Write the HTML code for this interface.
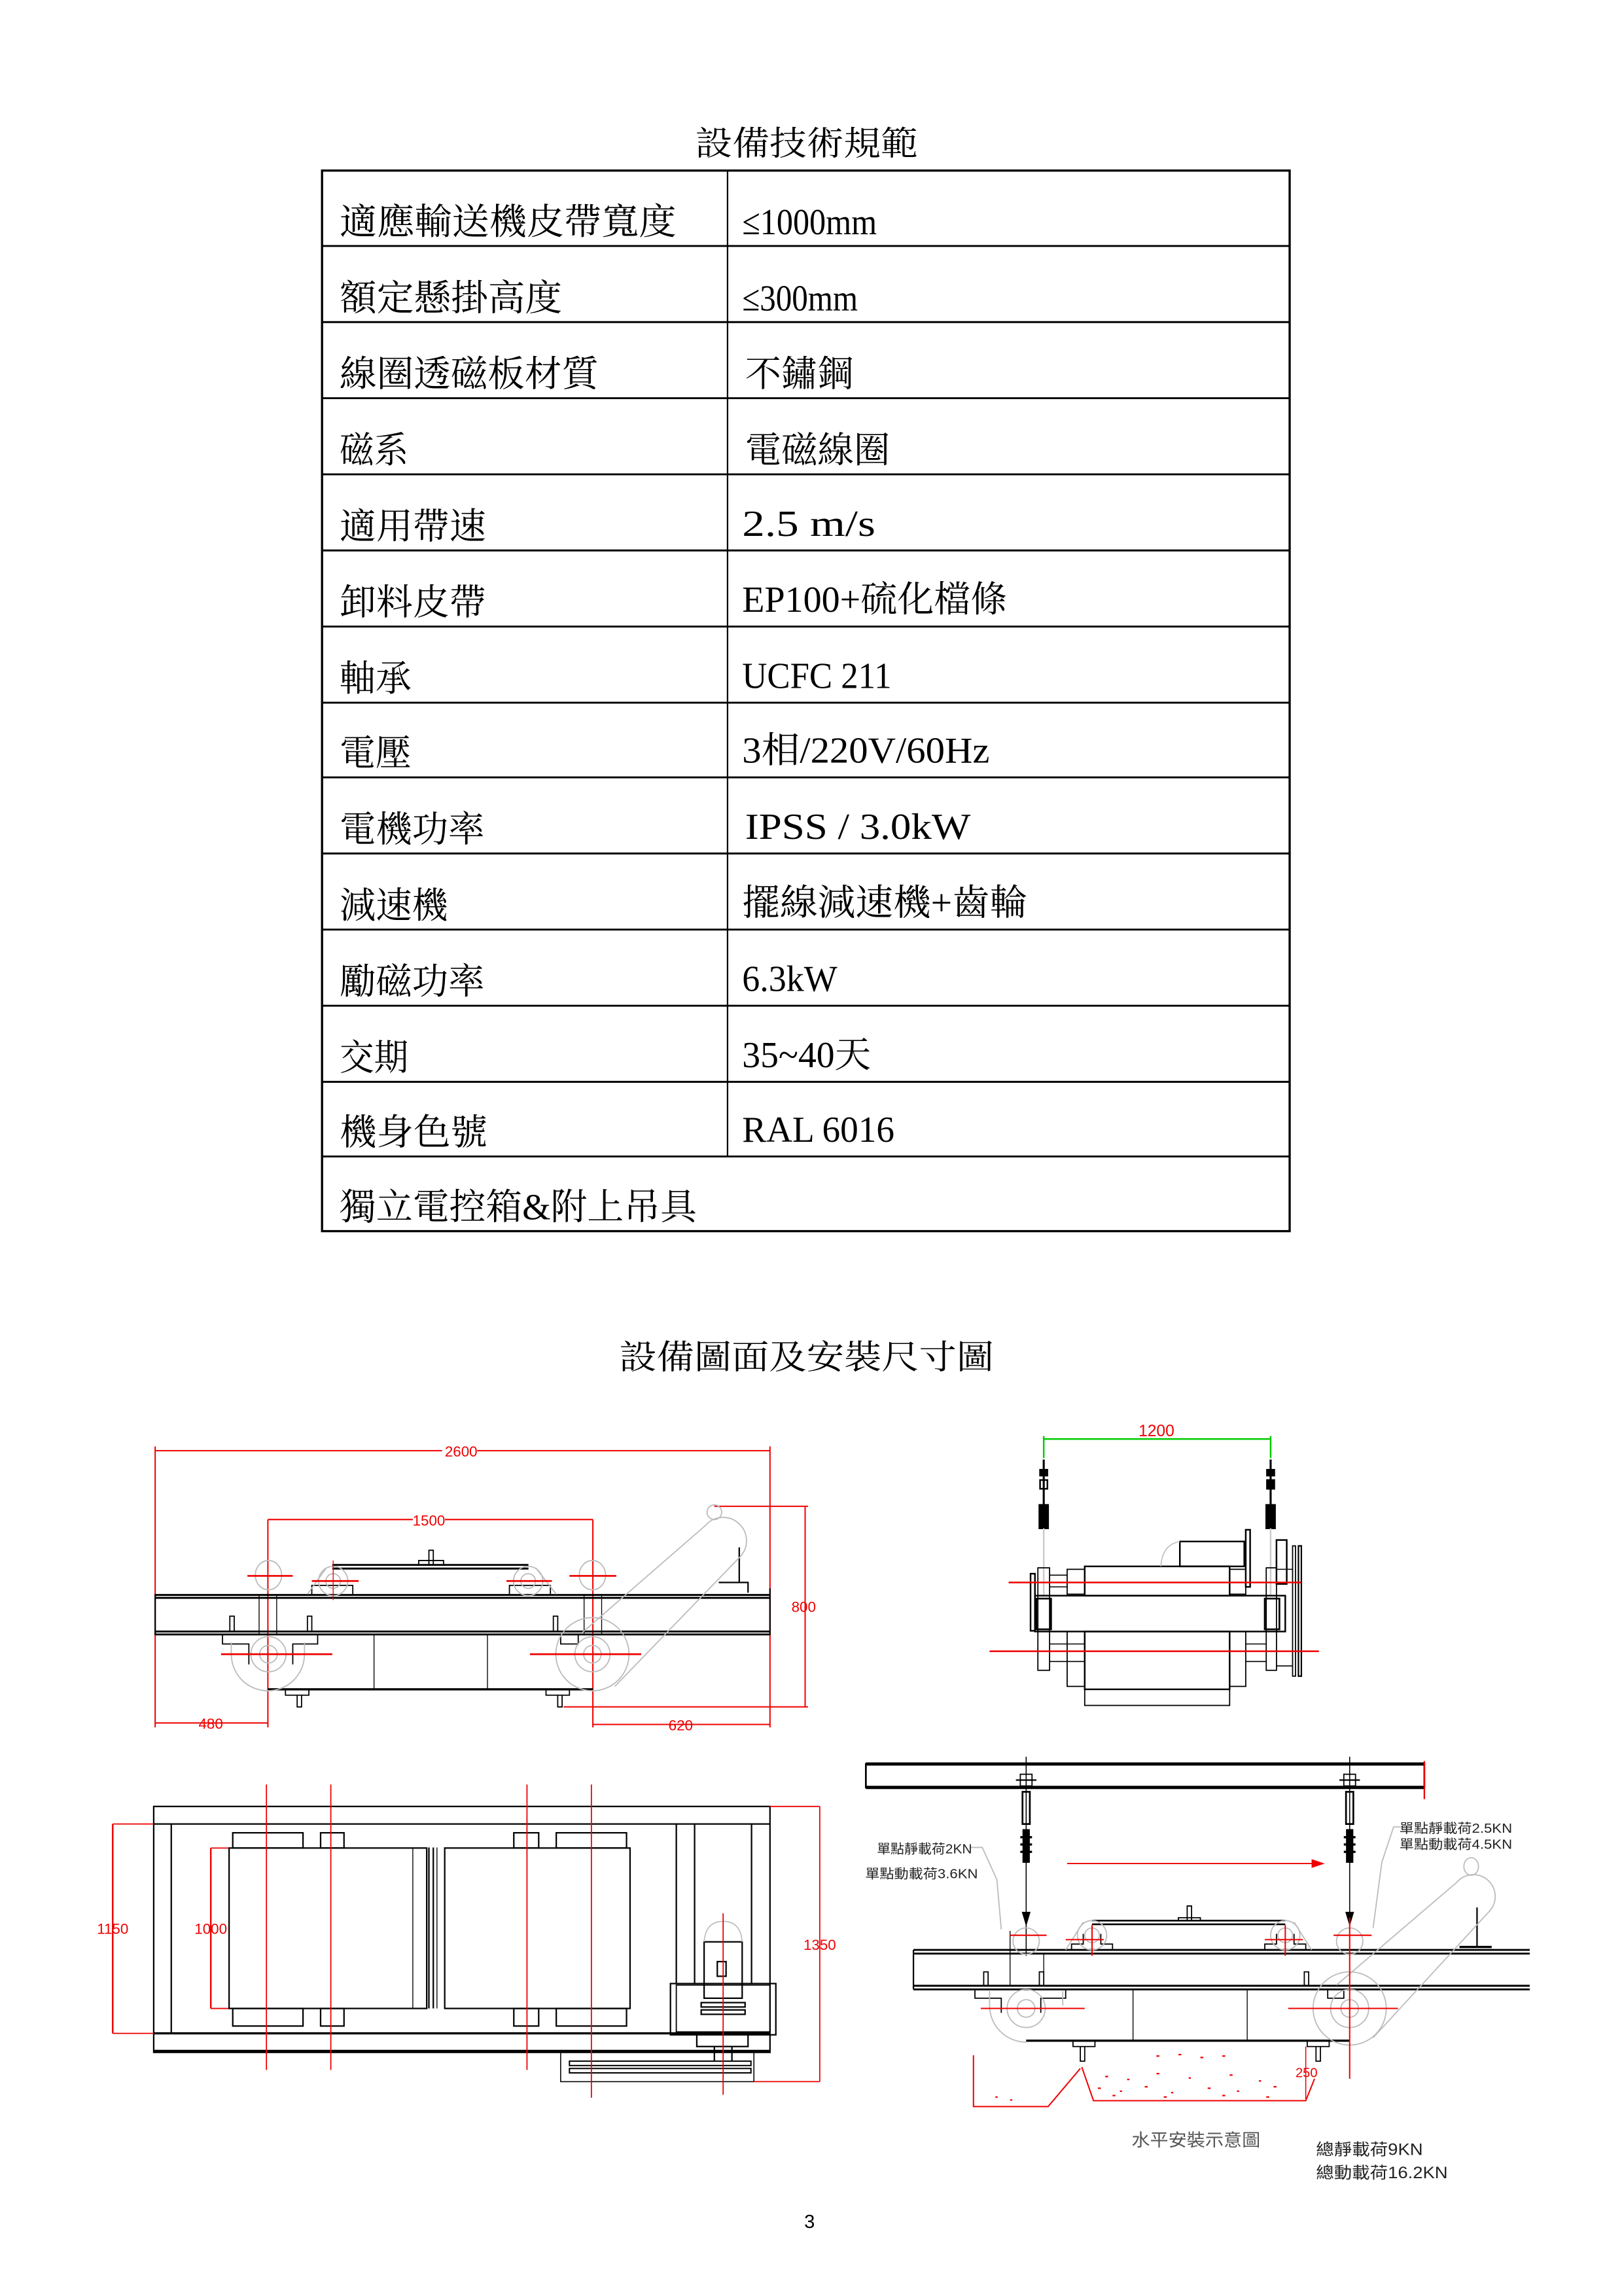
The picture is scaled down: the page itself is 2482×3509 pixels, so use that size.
<!DOCTYPE html>
<html><head><meta charset="utf-8">
<style>
html,body{margin:0;padding:0;background:#fff;}
svg{display:block;}
.c{font-family:"Liberation Serif","Noto Serif CJK SC",serif;font-size:25px;fill:#000;}
.d{font-family:"Liberation Sans","Noto Sans CJK TC",sans-serif;fill:#e00;font-size:10px;stroke:none;}
.k{font-family:"Liberation Sans","Noto Sans CJK TC",sans-serif;fill:#222;font-size:10px;stroke:none;}
</style></head>
<body>
<svg width="2482" height="3509" viewBox="0 0 1109.4 1568.4" xmlns="http://www.w3.org/2000/svg">
<rect width="1110" height="1569" fill="#fff"/>
<text class="c" x="551" y="106" text-anchor="middle" textLength="152" lengthAdjust="spacingAndGlyphs" style="font-size:23px">設備技術規範</text>
<g stroke="#000" fill="none">
<rect x="220" y="116.5" width="661" height="724.5" stroke-width="1.5"/>
<line x1="497" y1="116" x2="497" y2="790" stroke-width="1"/>
<g stroke-width="1.3">
<line x1="220" y1="168" x2="881" y2="168"/><line x1="220" y1="220" x2="881" y2="220"/>
<line x1="220" y1="272" x2="881" y2="272"/><line x1="220" y1="324" x2="881" y2="324"/>
<line x1="220" y1="376" x2="881" y2="376"/><line x1="220" y1="428" x2="881" y2="428"/>
<line x1="220" y1="480" x2="881" y2="480"/><line x1="220" y1="531" x2="881" y2="531"/>
<line x1="220" y1="583" x2="881" y2="583"/><line x1="220" y1="635" x2="881" y2="635"/>
<line x1="220" y1="687" x2="881" y2="687"/><line x1="220" y1="739" x2="881" y2="739"/>
<line x1="220" y1="790" x2="881" y2="790"/>
</g></g>
<g class="c">
<text x="232" y="160" textLength="230" lengthAdjust="spacingAndGlyphs">適應輸送機皮帶寬度</text>
<text x="507" y="160" textLength="92" lengthAdjust="spacingAndGlyphs">≤1000mm</text>
<text x="232" y="212" textLength="152" lengthAdjust="spacingAndGlyphs">額定懸掛高度</text>
<text x="507" y="212" textLength="79" lengthAdjust="spacingAndGlyphs">≤300mm</text>
<text x="232" y="264" textLength="177" lengthAdjust="spacingAndGlyphs">線圈透磁板材質</text>
<text x="509" y="264" textLength="74" lengthAdjust="spacingAndGlyphs">不鏽鋼</text>
<text x="232" y="316" textLength="47" lengthAdjust="spacingAndGlyphs">磁系</text>
<text x="509" y="316" textLength="99" lengthAdjust="spacingAndGlyphs">電磁線圈</text>
<text x="232" y="368" textLength="100" lengthAdjust="spacingAndGlyphs">適用帶速</text>
<text x="507" y="366" textLength="91" lengthAdjust="spacingAndGlyphs">2.5 m/s</text>
<text x="232" y="420" textLength="100" lengthAdjust="spacingAndGlyphs">卸料皮帶</text>
<text x="507" y="418" textLength="181" lengthAdjust="spacingAndGlyphs">EP100+硫化檔條</text>
<text x="232" y="472" textLength="49" lengthAdjust="spacingAndGlyphs">軸承</text>
<text x="507" y="470" textLength="102" lengthAdjust="spacingAndGlyphs">UCFC 211</text>
<text x="232" y="523" textLength="49" lengthAdjust="spacingAndGlyphs">電壓</text>
<text x="507" y="521" textLength="169" lengthAdjust="spacingAndGlyphs">3相/220V/60Hz</text>
<text x="232" y="575" textLength="99" lengthAdjust="spacingAndGlyphs">電機功率</text>
<text x="509" y="573" textLength="154" lengthAdjust="spacingAndGlyphs">IPSS / 3.0kW</text>
<text x="232" y="627" textLength="74" lengthAdjust="spacingAndGlyphs">減速機</text>
<text x="507" y="625" textLength="195" lengthAdjust="spacingAndGlyphs">擺線減速機+齒輪</text>
<text x="232" y="679" textLength="99" lengthAdjust="spacingAndGlyphs">勵磁功率</text>
<text x="507" y="677" textLength="65" lengthAdjust="spacingAndGlyphs">6.3kW</text>
<text x="232" y="731" textLength="47" lengthAdjust="spacingAndGlyphs">交期</text>
<text x="507" y="729" textLength="88" lengthAdjust="spacingAndGlyphs">35~40天</text>
<text x="232" y="782" textLength="101" lengthAdjust="spacingAndGlyphs">機身色號</text>
<text x="507" y="780" textLength="104" lengthAdjust="spacingAndGlyphs">RAL 6016</text>
<text x="232" y="833" textLength="244" lengthAdjust="spacingAndGlyphs">獨立電控箱&amp;附上吊具</text>
</g>
<text class="c" x="551" y="935" text-anchor="middle" textLength="256" lengthAdjust="spacingAndGlyphs" style="font-size:23px">設備圖面及安裝尺寸圖</text>

<!-- Drawing 1 -->
<g fill="none" stroke-width="1">
<g stroke="#e00" stroke-width="0.9">
<line x1="106" y1="991" x2="526" y2="991"/><line x1="106" y1="988" x2="106" y2="1180"/><line x1="526" y1="988" x2="526" y2="1180"/>
<line x1="183" y1="1038" x2="405" y2="1038"/><line x1="183" y1="1038" x2="183" y2="1180"/><line x1="405" y1="1038" x2="405" y2="1180"/>
<line x1="550" y1="1029" x2="550" y2="1166"/><line x1="488" y1="1029" x2="552" y2="1029"/><line x1="385" y1="1166" x2="552" y2="1166"/>
<line x1="106" y1="1177" x2="183" y2="1177"/><line x1="405" y1="1178" x2="526" y2="1178"/>
</g>
<rect x="302" y="985" width="24" height="11" fill="#fff" stroke="none"/>
<text class="d" x="315" y="995" text-anchor="middle">2600</text>
<rect x="282" y="1033" width="22" height="10" fill="#fff" stroke="none"/>
<text class="d" x="293" y="1042" text-anchor="middle">1500</text>
<text class="d" x="549" y="1101" text-anchor="middle">800</text>
<text class="d" x="144" y="1181" text-anchor="middle">480</text>
<text class="d" x="465" y="1182" text-anchor="middle">620</text>
<g stroke="#000">
<line x1="106" y1="1089.5" x2="526" y2="1089.5" stroke-width="1.3"/><line x1="106" y1="1091.5" x2="526" y2="1091.5" stroke-width="1.3"/>
<line x1="106" y1="1114.5" x2="526" y2="1114.5" stroke-width="1.3"/><line x1="106" y1="1116.5" x2="526" y2="1116.5" stroke-width="1.3"/>
<line x1="106" y1="1089" x2="106" y2="1117"/><line x1="526" y1="1085" x2="526" y2="1117"/>
<line x1="183" y1="1154" x2="405" y2="1154" stroke-width="1.5"/>
<line x1="255.5" y1="1117" x2="255.5" y2="1154" stroke-width="0.6"/><line x1="333" y1="1117" x2="333" y2="1154" stroke-width="0.6"/>
<line x1="227" y1="1069" x2="361" y2="1069" stroke-width="1.3"/><line x1="227" y1="1071.5" x2="361" y2="1071.5" stroke-width="1.3"/>
<path d="M293 1069 v-10 h3 v10 M286 1069 v-3 h17 v3" stroke-width="0.8"/>
<path d="M195 1154 v4 h16 v-4 M203 1158 v8 h3 v-8 M373 1154 v4 h16 v-4 M381 1158 v8 h3 v-8" stroke-width="0.8"/>
<path d="M157 1114 v-10 h3 v10 M210 1114 v-10 h3 v10 M378 1114 v-10 h3 v10" stroke-width="0.8"/>
<path d="M152 1117 v6 h18 v14 M200 1137 v-14 h17 v-6 M395 1117 v6 h-12 v-6" stroke-width="0.8"/>
<path d="M213 1089 v-6 h28 v6 M348 1089 v-6 h28 v6" stroke-width="0.8"/>
<path d="M491 1081 h20 v7 M505 1057 v24" stroke-width="1"/>
<line x1="177" y1="1089" x2="177" y2="1117" stroke-width="0.6"/><line x1="189" y1="1089" x2="189" y2="1117" stroke-width="0.6"/>
<line x1="399" y1="1089" x2="399" y2="1117" stroke-width="0.6"/><line x1="411" y1="1089" x2="411" y2="1117" stroke-width="0.6"/>
</g>
<g stroke="#bbb" stroke-width="0.8">
<circle cx="183.4" cy="1130" r="12"/><circle cx="183.4" cy="1130" r="6"/>
<path d="M183 1155 a25 25 0 0 1 -25 -25 v-8 M208 1122 v8 a25 25 0 0 1 -25 25"/>
<circle cx="404.7" cy="1130" r="12"/><circle cx="404.7" cy="1130" r="6"/><circle cx="404.7" cy="1130" r="25"/>
<circle cx="227.6" cy="1080" r="10"/><circle cx="227.6" cy="1080" r="5"/>
<circle cx="360.8" cy="1080" r="10"/><circle cx="360.8" cy="1080" r="5"/>
<ellipse cx="183.4" cy="1076" rx="9" ry="10"/><ellipse cx="404.7" cy="1076" rx="9" ry="10"/>
<line x1="210" y1="1089" x2="223" y2="1071"/><line x1="366" y1="1071" x2="380" y2="1089"/>
<path d="M398 1115 L482 1042 A14 14 0 0 1 506 1063 L420 1152"/>
<ellipse cx="488" cy="1033" rx="5" ry="5"/>
</g>
<g stroke="#e00" stroke-width="1.2">
<line x1="169" y1="1076.5" x2="200" y2="1076.5"/><line x1="389" y1="1076.5" x2="421" y2="1076.5"/>
<line x1="213" y1="1080" x2="245" y2="1080"/><line x1="346" y1="1080" x2="377" y2="1080"/>
<line x1="151" y1="1130" x2="227" y2="1130"/><line x1="362" y1="1130" x2="438" y2="1130"/>
<line x1="227.6" y1="1066" x2="227.6" y2="1093" stroke-width="0.6"/>
</g>
</g>

<!-- Drawing 2 -->
<text class="d" x="790" y="981" text-anchor="middle" style="font-size:11px">1200</text>
<g fill="none" stroke="#000" stroke-width="1.1">
<line x1="713" y1="983" x2="868" y2="983" stroke="#0c0"/>
<line x1="713" y1="981" x2="713" y2="996" stroke="#0c0"/><line x1="868" y1="981" x2="868" y2="996" stroke="#0c0"/>
<line x1="713" y1="997" x2="713" y2="1044" stroke-width="1.4"/><line x1="868" y1="997" x2="868" y2="1044" stroke-width="1.4"/>
<rect x="710.5" y="1004" width="5" height="4" fill="#000"/><rect x="865.5" y="1004" width="5" height="4" fill="#000"/>
<rect x="710.5" y="1011" width="5" height="6"/><rect x="865.5" y="1011" width="5" height="6" fill="#000"/>
<rect x="710" y="1028" width="6" height="16" fill="#000"/><rect x="865" y="1028" width="6" height="16" fill="#000"/>
<line x1="713" y1="1044" x2="713" y2="1090" stroke="#ccc"/><line x1="868" y1="1044" x2="868" y2="1090" stroke="#ccc"/>
<rect x="707" y="1090" width="171" height="24.5"/>
<rect x="741" y="1070" width="99" height="20"/>
<rect x="741" y="1114.5" width="99" height="39.5"/><rect x="741" y="1154" width="99" height="11" stroke-width="0.8"/>
<rect x="729" y="1072" width="12" height="17" stroke-width="0.8"/><rect x="840" y="1072" width="11" height="17" stroke-width="0.8"/>
<rect x="729" y="1114.5" width="12" height="37.5" stroke-width="0.8"/><rect x="840" y="1114.5" width="11" height="37.5" stroke-width="0.8"/>
<rect x="806" y="1053" width="44" height="17"/>
<path d="M806 1053 q-12 2 -13 17" stroke="#bbb" stroke-width="0.7"/>
<rect x="851" y="1045" width="3" height="39"/>
<rect x="872" y="1052" width="7" height="30"/>
<rect x="704" y="1075" width="3" height="39"/>
<rect x="709" y="1071" width="8" height="70" stroke-width="0.8"/><rect x="865" y="1071" width="7" height="70" stroke-width="0.8"/>
<rect x="708" y="1092" width="10" height="21" stroke-width="1.2"/><rect x="864" y="1092" width="10" height="21" stroke-width="1.2"/>
<line x1="717" y1="1076" x2="729" y2="1076" stroke-width="0.7"/><line x1="717" y1="1084" x2="729" y2="1084" stroke-width="0.7"/>
<line x1="717" y1="1123" x2="741" y2="1123" stroke-width="0.7"/><line x1="717" y1="1135" x2="741" y2="1135" stroke-width="0.7"/>
<line x1="851" y1="1123" x2="865" y2="1123" stroke-width="0.7"/><line x1="851" y1="1135" x2="865" y2="1135" stroke-width="0.7"/>
<rect x="883" y="1056" width="2" height="89" stroke-width="0.8"/><rect x="887" y="1056" width="2" height="89" stroke-width="1"/>
<line x1="872" y1="1072" x2="883" y2="1072" stroke-width="0.7"/><line x1="872" y1="1138" x2="883" y2="1138" stroke-width="0.7"/>
<line x1="689" y1="1081" x2="889" y2="1081" stroke="#e00"/>
<line x1="676" y1="1128" x2="901" y2="1128" stroke="#e00"/>
</g>

<!-- Drawing 3 -->
<g fill="none" stroke="#000" stroke-width="1">
<rect x="105" y="1234" width="421" height="168"/>
<line x1="105" y1="1246" x2="526" y2="1246"/>
<line x1="105" y1="1389" x2="526" y2="1389" stroke-width="1.5"/>
<line x1="105" y1="1401" x2="526" y2="1401" stroke-width="1.5"/>
<line x1="117" y1="1246" x2="117" y2="1389"/>
<line x1="462" y1="1246" x2="462" y2="1355"/><line x1="474.5" y1="1246" x2="474.5" y2="1355"/><line x1="513.4" y1="1246" x2="513.4" y2="1355"/>
<rect x="156.5" y="1262.4" width="135" height="109.6"/>
<rect x="303.8" y="1262.4" width="126.6" height="109.6"/>
<line x1="282" y1="1262" x2="282" y2="1372" stroke-width="0.6"/>
<line x1="293" y1="1262" x2="293" y2="1372"/><line x1="296" y1="1262" x2="296" y2="1372"/><line x1="298.5" y1="1262" x2="298.5" y2="1372" stroke-width="0.6"/>
<rect x="159" y="1252" width="48" height="10.4"/><rect x="219" y="1252" width="16" height="10.4"/>
<rect x="351" y="1252" width="17" height="10.4"/><rect x="380" y="1252" width="48" height="10.4"/>
<rect x="159" y="1372" width="48" height="12"/><rect x="219" y="1372" width="16" height="12"/>
<rect x="351" y="1372" width="17" height="12"/><rect x="380" y="1372" width="48" height="12"/>
<rect x="458" y="1355" width="72" height="35"/><rect x="462" y="1356" width="64" height="32" stroke-width="0.8"/>
<rect x="481" y="1326.5" width="26" height="38.5"/>
<path d="M481 1326.5 q1 -14 13 -14 q12 0 13 14" stroke="#bbb" stroke-width="0.7"/>
<rect x="490" y="1340" width="6" height="10"/>
<rect x="479" y="1368" width="30" height="3"/><rect x="479" y="1373" width="30" height="3"/>
<rect x="476" y="1389.5" width="35" height="8.5"/>
<rect x="383" y="1402" width="132" height="20" stroke-width="0.7"/>
<rect x="389" y="1408" width="124" height="3" stroke-width="0.9"/><rect x="389" y="1413" width="124" height="3" stroke-width="0.9"/>
<line x1="488" y1="1398" x2="488" y2="1408"/><line x1="500" y1="1398" x2="500" y2="1408"/>
</g>
<g stroke="#e00" stroke-width="0.8" fill="none">
<line x1="182" y1="1219" x2="182" y2="1414"/><line x1="226" y1="1219" x2="226" y2="1414"/>
<line x1="360" y1="1219" x2="360" y2="1414"/><line x1="404" y1="1219" x2="404" y2="1433"/>
<line x1="494" y1="1307" x2="494" y2="1431"/>
<line x1="77" y1="1246" x2="77" y2="1389" stroke-width="1.1"/><line x1="77" y1="1246" x2="105" y2="1246"/><line x1="77" y1="1389" x2="105" y2="1389"/>
<line x1="144" y1="1262.4" x2="144" y2="1372" stroke-width="1.1"/><line x1="144" y1="1262.4" x2="156" y2="1262.4"/><line x1="144" y1="1372" x2="156" y2="1372"/>
<line x1="560" y1="1234" x2="560" y2="1422"/><line x1="526" y1="1234" x2="560" y2="1234"/><line x1="515" y1="1422" x2="560" y2="1422"/>
</g>
<text class="d" x="77" y="1321" text-anchor="middle">1150</text>
<text class="d" x="144" y="1321" text-anchor="middle">1000</text>
<text class="d" x="560" y="1332" text-anchor="middle">1350</text>

<!-- Drawing 4 -->
<g fill="none" stroke="#000">
<rect x="591.5" y="1205" width="381.5" height="16" stroke-width="1.2"/>
<line x1="591.5" y1="1205" x2="973" y2="1205" stroke-width="2.2"/><line x1="591.5" y1="1221" x2="973" y2="1221" stroke-width="2.2"/>
<line x1="973" y1="1203" x2="973" y2="1229" stroke="#e00"/>
<line x1="701" y1="1200" x2="701" y2="1336" stroke-width="0.7"/><line x1="922" y1="1200" x2="922" y2="1336" stroke-width="0.7"/>
<path d="M694 1216 h14 M915 1216 h14" stroke-width="1"/>
<rect x="697" y="1212" width="8" height="8" stroke-width="0.8"/><rect x="918" y="1212" width="8" height="8" stroke-width="0.8"/>
<rect x="698.5" y="1224" width="5" height="22" stroke-width="1.2"/><rect x="919.5" y="1224" width="5" height="22" stroke-width="1.2"/>
<rect x="699" y="1250" width="4" height="22" fill="#000"/><rect x="920" y="1250" width="4" height="22" fill="#000"/>
<path d="M697 1255 h8 M697 1260 h8 M697 1265 h8 M918 1255 h8 M918 1260 h8 M918 1265 h8" stroke-width="1.5"/>
<line x1="624" y1="1332" x2="1045" y2="1332" stroke-width="1.3"/><line x1="624" y1="1334.5" x2="1045" y2="1334.5" stroke-width="1.3"/>
<line x1="624" y1="1356.5" x2="1045" y2="1356.5" stroke-width="1.3"/><line x1="624" y1="1359" x2="1045" y2="1359" stroke-width="1.3"/>
<line x1="624" y1="1332" x2="624" y2="1359"/>
<line x1="701" y1="1394" x2="922" y2="1394" stroke-width="1.5"/>
<line x1="774" y1="1359" x2="774" y2="1394" stroke-width="0.6"/><line x1="852" y1="1359" x2="852" y2="1394" stroke-width="0.6"/>
<line x1="746" y1="1312" x2="878" y2="1312" stroke-width="1.2"/><line x1="746" y1="1314.5" x2="878" y2="1314.5" stroke-width="1.2"/>
<path d="M811 1312 v-10 h3 v10 M805 1312 v-2 h15 v2" stroke-width="0.8"/>
<path d="M732 1332 v-4 h8 v-7 M752 1321 v7 h8 v4 M864 1332 v-4 h8 v-7 M884 1321 v7 h8 v4" stroke-width="0.8"/>
<path d="M672 1357 v-10 h3 v10 M710 1357 v-10 h3 v10 M891 1357 v-10 h3 v10" stroke-width="0.8"/>
<path d="M666 1359 v6 h18 v10 M711 1375 v-10 h17 v-6 M918 1359 v6 h-11 v-6" stroke-width="0.8"/>
<path d="M733 1394 v4 h15 v-4 M738 1398 v10 h3 v-10 M893 1394 v4 h15 v-4 M899 1398 v10 h3 v-10" stroke-width="0.8"/>
<line x1="713" y1="1334" x2="713" y2="1357" stroke-width="0.6"/><line x1="690" y1="1319" x2="690" y2="1357" stroke-width="0.6"/>
<line x1="1009" y1="1303" x2="1009" y2="1330" stroke-width="1"/><path d="M997 1330 h22" stroke-width="1.5"/>
</g>
<g fill="none" stroke="#bbb" stroke-width="0.8">
<ellipse cx="701" cy="1326" rx="9" ry="9"/><ellipse cx="922" cy="1326" rx="9" ry="9"/>
<path d="M701 1395 a25 25 0 0 1 -25 -25 v-10 M726 1360 v10"/>
<circle cx="701" cy="1372" r="13"/><circle cx="701" cy="1372" r="6"/>
<circle cx="922" cy="1372" r="25"/><circle cx="922" cy="1372" r="13"/><circle cx="922" cy="1372" r="6"/>
<circle cx="746" cy="1322" r="10"/><circle cx="746" cy="1322" r="5"/>
<circle cx="878" cy="1322" r="10"/><circle cx="878" cy="1322" r="5"/>
<line x1="728" y1="1332" x2="740" y2="1313"/><line x1="884" y1="1313" x2="896" y2="1332"/>
<path d="M913 1356 L995 1286 A13 13 0 0 1 1018 1305 L938 1392"/>
<ellipse cx="1005" cy="1275" rx="5" ry="6"/>
<path d="M663 1262 h8 l10 22 l3 34 M958 1248 h-6 l-8 24 l-6 45"/>
</g>
<path d="M698 1306 l3 10 l3 -10z M919 1306 l3 10 l3 -10z" fill="#000"/>
<line x1="729" y1="1273" x2="897" y2="1273" stroke="#e00" stroke-width="0.8"/>
<path d="M896 1270 l9 3 l-9 3z" fill="#e00"/>
<g stroke="#e00" fill="none" stroke-width="0.9">
<line x1="922" y1="1310" x2="922" y2="1420"/>
<line x1="690" y1="1322" x2="715" y2="1322"/><line x1="728" y1="1325" x2="754" y2="1325"/>
<line x1="864" y1="1325" x2="890" y2="1325"/><line x1="911" y1="1322" x2="937" y2="1322"/>
<line x1="746" y1="1315" x2="746" y2="1336"/><line x1="878" y1="1315" x2="878" y2="1336"/>
<line x1="670" y1="1372" x2="741" y2="1372"/><line x1="880" y1="1372" x2="955" y2="1372"/>
<polyline points="665,1404 665,1439 716,1439 738,1413"/>
<polyline points="739,1412 747,1435 892,1435 898,1420"/>
<line x1="892" y1="1398" x2="892" y2="1434" stroke-width="0.7"/>
</g>
<g fill="#e00">
<rect x="755" y="1418" width="2" height="1"/><rect x="770" y="1420" width="1.5" height="1"/><rect x="790" y="1416" width="2" height="1"/><rect x="812" y="1419" width="1.5" height="1"/><rect x="840" y="1417" width="2" height="1"/><rect x="860" y="1421" width="1.5" height="1"/>
<rect x="750" y="1426" width="2" height="1"/><rect x="765" y="1428" width="1.5" height="1"/><rect x="782" y="1425" width="2" height="1"/><rect x="800" y="1429" width="1.5" height="1"/><rect x="825" y="1426" width="2" height="1"/><rect x="845" y="1428" width="1.5" height="1"/><rect x="870" y="1425" width="2" height="1"/>
<rect x="760" y="1431" width="2" height="1"/><rect x="795" y="1432" width="2" height="1"/><rect x="835" y="1431" width="2" height="1"/><rect x="865" y="1432" width="2" height="1"/>
<rect x="790" y="1404" width="2" height="1"/><rect x="805" y="1403" width="2" height="1"/><rect x="820" y="1405" width="2" height="1"/><rect x="835" y="1404" width="2" height="1"/>
<rect x="680" y="1432" width="1.5" height="1"/><rect x="690" y="1434" width="1.5" height="1"/>
</g>
<text class="d" x="885" y="1419" style="font-size:9px">250</text>
<text class="k" x="599" y="1266" style="font-size:9px" textLength="65" lengthAdjust="spacingAndGlyphs">單點靜載荷2KN</text>
<text class="k" x="591" y="1283" style="font-size:9px" textLength="77" lengthAdjust="spacingAndGlyphs">單點動載荷3.6KN</text>
<text class="k" x="956" y="1252" style="font-size:9px" textLength="77" lengthAdjust="spacingAndGlyphs">單點靜載荷2.5KN</text>
<text class="k" x="956" y="1263" style="font-size:9px" textLength="77" lengthAdjust="spacingAndGlyphs">單點動載荷4.5KN</text>
<text class="k" x="773" y="1466" style="font-size:12px;fill:#555" textLength="88" lengthAdjust="spacingAndGlyphs">水平安裝示意圖</text>
<text class="k" x="899" y="1472" style="font-size:11px" textLength="73" lengthAdjust="spacingAndGlyphs">總靜載荷9KN</text>
<text class="k" x="899" y="1488" style="font-size:11px" textLength="90" lengthAdjust="spacingAndGlyphs">總動載荷16.2KN</text>

<text x="553" y="1522" text-anchor="middle" style="font-family:'Liberation Sans',sans-serif;font-size:13px">3</text>
</svg>
</body></html>
